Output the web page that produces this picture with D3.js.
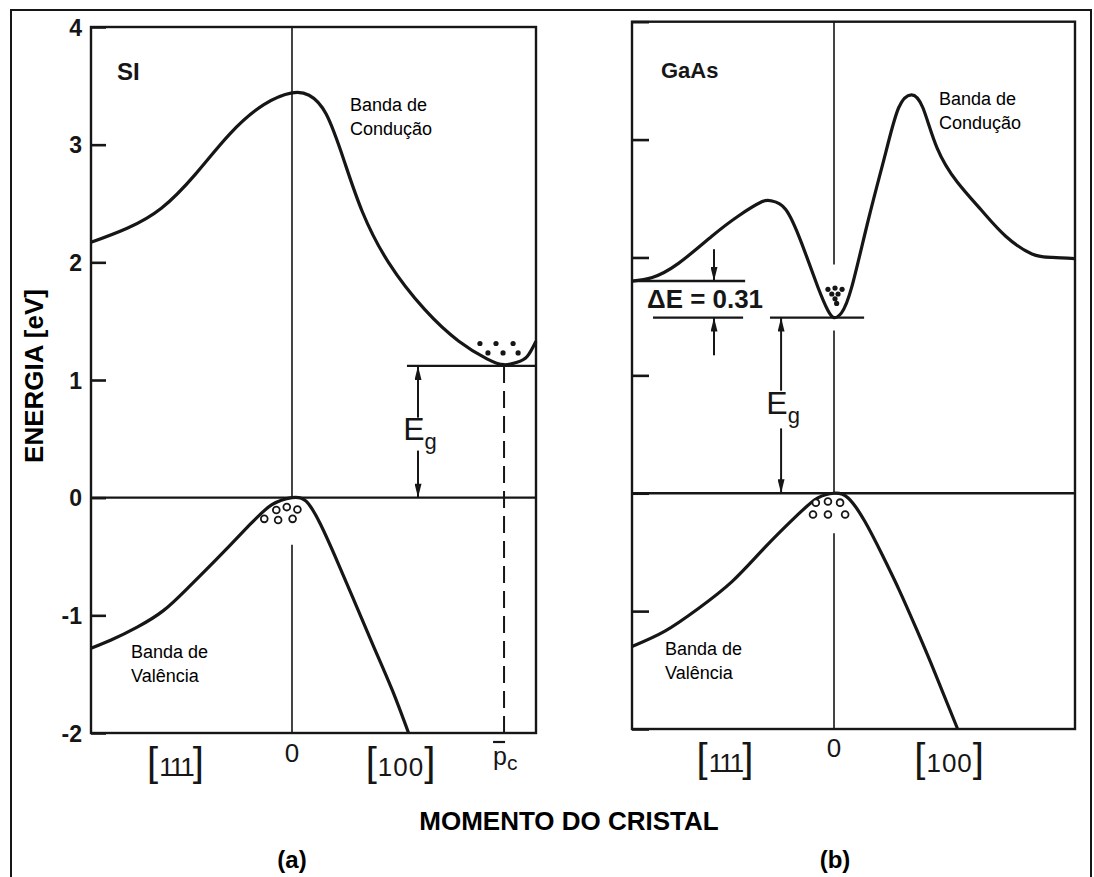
<!DOCTYPE html>
<html><head><meta charset="utf-8">
<script src="https://cdn.jsdelivr.net/npm/d3@7"></script>
<style>html,body{margin:0;padding:0;background:#fff;} svg{display:block;}</style>
</head><body>
<svg id="chart" width="1094" height="877"></svg>
<script>
// ---------------- data ----------------
const energyTicks = [-2, -1, 0, 1, 2, 3, 4];
const energyTickLabels = ["-2", "-1", "0", "1", "2", "3", "4"];

// Si (a): k = crystal momentum (0 = centre, -1 = [111] edge), E in eV
const siCondK = [-1.0, -0.82, -0.65, -0.48, -0.31, -0.14, 0.0, 0.085, 0.17, 0.26, 0.35, 0.48, 0.66, 0.83, 0.97, 1.055, 1.12, 1.17, 1.214];
const siCondE = [2.17, 2.29, 2.46, 2.75, 3.09, 3.34, 3.44, 3.42, 3.26, 2.86, 2.43, 2.00, 1.60, 1.33, 1.18, 1.13, 1.15, 1.20, 1.33];
const siValK = [-1.0, -0.90, -0.77, -0.64, -0.52, -0.38, -0.21, -0.10, 0.0, 0.07, 0.14, 0.23, 0.32, 0.41, 0.50, 0.58];
const siValE = [-1.28, -1.21, -1.10, -0.96, -0.77, -0.53, -0.23, -0.06, 0.0, -0.03, -0.22, -0.56, -0.92, -1.28, -1.64, -2.0];
const siElecK = [0.935, 1.015, 1.10, 0.975, 1.05, 1.125];
const siElecE = [1.31, 1.31, 1.31, 1.23, 1.23, 1.23];
const siHoleK = [-0.078, -0.026, 0.027, -0.138, -0.069, 0.003];
const siHoleE = [-0.105, -0.08, -0.10, -0.18, -0.19, -0.18];
const siGap = 1.12;          // E_g of Si
const siPc = 1.055;          // p_c position (conduction minimum)
const siGapArrowK = 0.627;
const siCentreSegs = [[4, 0], [-0.40, -2]];
const siXLabels = ["[111]", "0", "[100]"];
const siXLabelK = [-0.58, 0, 0.54];

// GaAs (b)
const gaasCondK = [-1.0, -0.90, -0.77, -0.605, -0.475, -0.36, -0.31, -0.24, -0.16, -0.08, -0.03, 0.0, 0.037, 0.088, 0.17, 0.256, 0.32, 0.383, 0.44, 0.51, 0.61, 0.73, 0.85, 0.98, 1.08, 1.193];
const gaasCondE = [1.80, 1.83, 1.95, 2.18, 2.35, 2.47, 2.48, 2.41, 2.12, 1.75, 1.55, 1.49, 1.53, 1.75, 2.32, 2.89, 3.27, 3.38, 3.27, 2.93, 2.64, 2.40, 2.18, 2.03, 2.00, 1.99];
const gaasValK = [-1.0, -0.837, -0.673, -0.505, -0.342, -0.178, -0.08, 0.0, 0.07, 0.153, 0.238, 0.325, 0.41, 0.494, 0.612];
const gaasValE = [-1.30, -1.17, -0.98, -0.75, -0.46, -0.18, -0.04, 0.0, -0.04, -0.24, -0.52, -0.83, -1.16, -1.50, -2.0];
const gaasElecK = [-0.03, 0.005, 0.04, -0.011, 0.02, 0.005, 0.013];
const gaasElecE = [1.73, 1.74, 1.73, 1.69, 1.69, 1.65, 1.61];
const gaasHoleK = [-0.09, -0.03, 0.03, -0.104, -0.03, 0.055];
const gaasHoleE = [-0.08, -0.07, -0.08, -0.18, -0.18, -0.18];
const gaasSideValley = 1.80;  // L valley level
const gaasGap = 1.49;         // E_g of GaAs
const gaasDeltaE = "ΔE = 0.31";
const gaasDeltaArrowK = -0.594;
const gaasGapArrowK = -0.262;
const gaasCentreSegs = [[4, 1.94], [1.38, 0], [-0.34, -2]];
const gaasXLabels = ["[111]", "0", "[100]"];
const gaasXLabelK = [-0.54, 0, 0.57];

// ---------------- drawing ----------------
const ink = "#161616";
const svg = d3.select("#chart");
svg.append("rect").attr("width", 1094).attr("height", 877).attr("fill", "#fff");
svg.append("rect").attr("x", 11).attr("y", 10).attr("width", 1080).attr("height", 900)
  .attr("fill", "none").attr("stroke", ink).attr("stroke-width", 2);

const defs = svg.append("defs");
defs.append("marker").attr("id", "ah").attr("viewBox", "0 0 16 8")
  .attr("refX", 16).attr("refY", 4).attr("markerWidth", 16).attr("markerHeight", 7)
  .attr("markerUnits", "userSpaceOnUse").attr("orient", "auto")
  .append("path").attr("d", "M0,0L16,4L0,8Z").attr("fill", ink);

const SANS = "'Liberation Sans', Arial, sans-serif";

function zip(a, b) { return a.map((v, i) => [v, b[i]]); }

function drawPanel(o) {
  const g = svg.append("g");
  const x = o.x, y = o.y;
  const [k0, k1] = x.domain();
  o.centre.forEach(s => {
    g.append("line").attr("x1", x(0)).attr("x2", x(0)).attr("y1", y(s[0])).attr("y2", y(s[1]))
      .attr("stroke", ink).attr("stroke-width", 1.6);
  });
  g.append("rect").attr("x", x(k0)).attr("y", y(4)).attr("width", x(k1) - x(k0)).attr("height", y(-2) - y(4))
    .attr("fill", "none").attr("stroke", ink).attr("stroke-width", 2.4);
  g.append("line").attr("x1", x(k0)).attr("x2", x(k1)).attr("y1", y(0)).attr("y2", y(0))
    .attr("stroke", ink).attr("stroke-width", 2.4);
  const ax = g.append("g").attr("transform", `translate(${x(k0)},0)`)
    .call(d3.axisLeft(y).tickValues(energyTicks).tickSizeInner(-o.tick).tickSizeOuter(0).tickPadding(o.pad)
      .tickFormat((d, i) => o.labels ? energyTickLabels[i] : ""));
  ax.select(".domain").remove();
  ax.selectAll(".tick line").attr("stroke", ink).attr("stroke-width", 2.6);
  ax.selectAll(".tick text").attr("font-family", SANS).attr("font-weight", "bold")
    .attr("font-size", 23).attr("fill", ink).attr("dy", "0.36em");

  const line = d3.line().x(d => x(d[0])).y(d => y(d[1])).curve(d3.curveNatural);
  g.append("path").attr("d", line(zip(o.condK, o.condE))).attr("fill", "none")
    .attr("stroke", ink).attr("stroke-width", 3.2).attr("stroke-linejoin", "round");
  g.append("path").attr("d", line(zip(o.valK, o.valE))).attr("fill", "none")
    .attr("stroke", ink).attr("stroke-width", 3.2).attr("stroke-linejoin", "round");

  g.selectAll(".el").data(zip(o.elecK, o.elecE)).join("circle")
    .attr("cx", d => x(d[0])).attr("cy", d => y(d[1])).attr("r", 2.6).attr("fill", ink);
  g.selectAll(".ho").data(zip(o.holeK, o.holeE)).join("circle")
    .attr("cx", d => x(d[0])).attr("cy", d => y(d[1])).attr("r", 3.4)
    .attr("fill", "#fff").attr("stroke", ink).attr("stroke-width", 1.8);

  o.xLabels.forEach((lab, i) => {
    const t = g.append("text").attr("x", x(o.xLabelK[i])).attr("text-anchor", "middle")
      .attr("font-family", SANS).attr("fill", ink);
    if (lab.startsWith("[")) {
      t.attr("y", o.bracketBase);
      t.append("tspan").attr("font-size", 40).text("[");
      t.append("tspan").attr("font-size", 26).attr("letter-spacing", lab === "[111]" ? -2 : 1)
        .attr("dx", 1).text(lab.slice(1, -1));
      t.append("tspan").attr("font-size", 40).text("]");
    } else {
      t.attr("y", o.zeroBase).attr("font-size", 26).text(lab);
    }
  });
  return g;
}

function arrow(g, x, y, k, e1, e2) {
  g.append("line").attr("x1", x(k)).attr("x2", x(k)).attr("y1", y(e1)).attr("y2", y(e2))
    .attr("stroke", ink).attr("stroke-width", 2).attr("marker-end", "url(#ah)");
}
function egText(g, px, py) {
  const t = g.append("text").attr("x", px).attr("y", py).attr("font-family", SANS).attr("fill", ink).attr("text-anchor", "middle");
  t.append("tspan").attr("font-size", 32).text("E");
  t.append("tspan").attr("font-size", 22).attr("dy", 9).text("g");
}
function label2(px, py, l1, l2) {
  const t = svg.append("text").attr("font-family", SANS).attr("font-size", 18).attr("fill", "#000");
  t.append("tspan").attr("x", px).attr("y", py).text(l1);
  t.append("tspan").attr("x", px).attr("y", py + 24).text(l2);
}

// ---- panel (a) Si ----
const xA = d3.scaleLinear().domain([-1, 1.214]).range([91, 536]);
const yA = d3.scaleLinear().domain([-2, 4]).range([733, 27]);
const gA = drawPanel({
  x: xA, y: yA, tick: 15, pad: 9, labels: true,
  condK: siCondK, condE: siCondE, valK: siValK, valE: siValE,
  elecK: siElecK, elecE: siElecE, holeK: siHoleK, holeE: siHoleE,
  centre: siCentreSegs, xLabels: siXLabels, xLabelK: siXLabelK, bracketBase: 776, zeroBase: 762
});
gA.append("line").attr("x1", xA(0.572)).attr("x2", xA(1.214)).attr("y1", yA(siGap)).attr("y2", yA(siGap))
  .attr("stroke", ink).attr("stroke-width", 2.4);
gA.append("line").attr("x1", xA(siPc)).attr("x2", xA(siPc)).attr("y1", yA(siGap)).attr("y2", yA(-2))
  .attr("stroke", ink).attr("stroke-width", 2).attr("stroke-dasharray", "17,8");
arrow(gA, xA, yA, siGapArrowK, 0.68, siGap);
arrow(gA, xA, yA, siGapArrowK, 0.40, 0);
egText(gA, xA(siGapArrowK) + 2, 440);
gA.append("line").attr("x1", xA(siPc) - 11).attr("x2", xA(siPc) + 1).attr("y1", 742).attr("y2", 742)
  .attr("stroke", ink).attr("stroke-width", 2.2);
const pc = gA.append("text").attr("x", xA(siPc) - 11).attr("y", 765).attr("font-family", SANS).attr("fill", ink);
pc.append("tspan").attr("font-size", 25).text("p");
pc.append("tspan").attr("font-size", 21).attr("dy", 5).text("c");
svg.append("text").attr("x", 117).attr("y", 80).attr("font-family", SANS).attr("font-weight", "bold")
  .attr("font-size", 24).attr("fill", ink).text("SI");
label2(350, 111, "Banda de", "Condução");
label2(131, 658, "Banda de", "Valência");

// ---- panel (b) GaAs ----
const xB = d3.scaleLinear().domain([-1, 1.193]).range([632, 1075]);
const yB = d3.scaleLinear().domain([-2, 4]).range([729, 21.7]);
const gB = drawPanel({
  x: xB, y: yB, tick: 17, pad: 9, labels: false,
  condK: gaasCondK, condE: gaasCondE, valK: gaasValK, valE: gaasValE,
  elecK: gaasElecK, elecE: gaasElecE, holeK: gaasHoleK, holeE: gaasHoleE,
  centre: gaasCentreSegs, xLabels: gaasXLabels, xLabelK: gaasXLabelK, bracketBase: 772, zeroBase: 757
});
gB.append("line").attr("x1", xB(-1)).attr("x2", xB(-0.44)).attr("y1", yB(gaasSideValley)).attr("y2", yB(gaasSideValley))
  .attr("stroke", ink).attr("stroke-width", 2.4);
gB.append("line").attr("x1", xB(-0.896)).attr("x2", xB(-0.45)).attr("y1", yB(gaasGap)).attr("y2", yB(gaasGap))
  .attr("stroke", ink).attr("stroke-width", 2.4);
gB.append("line").attr("x1", xB(-0.317)).attr("x2", xB(0.149)).attr("y1", yB(gaasGap)).attr("y2", yB(gaasGap))
  .attr("stroke", ink).attr("stroke-width", 2.4);
arrow(gB, xB, yB, gaasDeltaArrowK, 2.07, gaasSideValley);
arrow(gB, xB, yB, gaasDeltaArrowK, 1.17, gaasGap);
arrow(gB, xB, yB, gaasGapArrowK, 0.87, gaasGap);
arrow(gB, xB, yB, gaasGapArrowK, 0.55, 0);
egText(gB, xB(gaasGapArrowK) + 2, 414);
gB.append("text").attr("x", 647).attr("y", 308).attr("font-family", SANS).attr("font-weight", "bold")
  .attr("font-size", 25).attr("fill", ink).attr("textLength", 116).attr("lengthAdjust", "spacingAndGlyphs")
  .text(gaasDeltaE);
svg.append("text").attr("x", 661).attr("y", 78).attr("font-family", SANS).attr("font-weight", "bold")
  .attr("font-size", 22).attr("fill", ink).text("GaAs");
label2(939, 105, "Banda de", "Condução");
label2(665, 655, "Banda de", "Valência");

// ---- titles ----
svg.append("text").attr("transform", "translate(43,376) rotate(-90)").attr("text-anchor", "middle")
  .attr("font-family", SANS).attr("font-weight", "bold").attr("font-size", 26).attr("fill", "#000")
  .text("ENERGIA [eV]");
svg.append("text").attr("x", 569).attr("y", 830).attr("text-anchor", "middle")
  .attr("font-family", SANS).attr("font-weight", "bold").attr("font-size", 26).attr("fill", "#000")
  .text("MOMENTO DO CRISTAL");
svg.append("text").attr("x", 292).attr("y", 868).attr("text-anchor", "middle")
  .attr("font-family", SANS).attr("font-weight", "bold").attr("font-size", 24).attr("fill", "#000").text("(a)");
svg.append("text").attr("x", 835).attr("y", 868).attr("text-anchor", "middle")
  .attr("font-family", SANS).attr("font-weight", "bold").attr("font-size", 24).attr("fill", "#000").text("(b)");
</script>
</body></html>
